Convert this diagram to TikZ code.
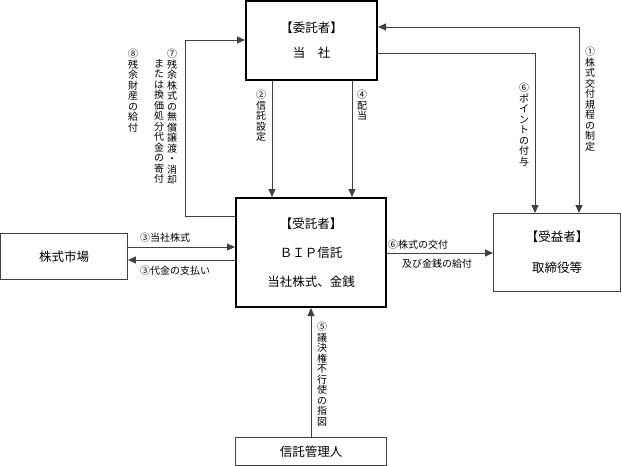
\documentclass[tikz,border=0pt]{standalone}
\usepackage{fontspec}
\setmainfont{Noto Sans CJK JP}
\usetikzlibrary{arrows.meta}

\newlength{\du}
\setlength{\du}{1pt}

\tikzset{
  heavybox/.style={draw=black, line width=2.4\du, fill=white, inner sep=0pt, align=center},
  lightbox/.style={draw=black!75, line width=0.9\du, fill=white, inner sep=0pt, align=center},
  link/.style={draw=black!75, line width=0.9\du, -{Triangle[length=8pt,width=7pt]}},
  twolink/.style={draw=black!75, line width=0.9\du, {Triangle[length=8pt,width=7pt]}-{Triangle[length=8pt,width=7pt]}},
  boxtext/.style={font=\fontsize{12.5}{#1}\selectfont},
  tag/.style={font=\fontsize{10}{10.5}\selectfont, inner sep=0pt},
  tate/.style={tag, align=center, anchor=north},
}

\begin{document}
\begin{tikzpicture}
\pgftransformxscale{1.000000}
\pgftransformyscale{-1.000000}
\useasboundingbox (0\du,0\du) rectangle (622\du,466\du);

% boxes
\node[heavybox, boxtext=25, minimum width=130.6\du, minimum height=78.6\du] (entrust) at (311.5\du,40.5\du) {【委託者】\\当　社};
\node[heavybox, boxtext=29, minimum width=149.6\du, minimum height=108.6\du] (trust) at (311\du,252.5\du) {【受託者】\\ＢＩＰ信託\\当社株式、金銭};
\node[lightbox, boxtext=31, minimum width=127\du, minimum height=78\du] (benef) at (557\du,252.5\du) {【受益者】\\取締役等};
\node[lightbox, boxtext=15, minimum width=127\du, minimum height=46\du] (market) at (64\du,256.5\du) {株式市場};
\node[lightbox, boxtext=15, minimum width=151\du, minimum height=28\du] (admin) at (311\du,451.5\du) {信託管理人};

% bends
\coordinate (c2) at (272\du,0\du);
\coordinate (c4) at (352\du,0\du);
\coordinate (c7a) at (185\du,216\du);
\coordinate (c7b) at (185\du,40\du);
\coordinate (c1) at (579\du,27\du);
\coordinate (c6) at (535\du,53\du);
\coordinate (c3a) at (0\du,247\du);
\coordinate (c3b) at (0\du,260\du);
\coordinate (c6b) at (0\du,253\du);

% connectors
\draw[link] (entrust.south -| c2) -- (trust.north -| c2);
\draw[link] (entrust.south -| c4) -- (trust.north -| c4);
\draw[link] (trust.west |- c7a) -- (c7a) -- (c7b) -- (entrust.west |- c7b);
\draw[twolink] (entrust.east |- c1) -- (c1) -- (benef.north -| c1);
\draw[link] (entrust.east |- c6) -- (c6) -- (benef.north -| c6);
\draw[link] (market.east |- c3a) -- (trust.west |- c3a);
\draw[link] (trust.west |- c3b) -- (market.east |- c3b);
\draw[link] (trust.east |- c6b) -- (benef.west |- c6b);
\draw[link] (admin.north) -- (trust.south);

% labels
\node[tag, anchor=west] (l3a) at (140\du,238\du) {③当社株式};
\node[tag, anchor=west] (l3b) at (140\du,271\du) {③代金の支払い};
\node[tag, anchor=west] (l6a) at (388\du,245\du) {⑥株式の交付};
\node[tag, anchor=west] (l6b) at (402\du,264\du) {及び金銭の給付};
\node[tate] (l8) at (133\du,49\du) {⑧\\残\\余\\財\\産\\の\\給\\付};
\node[tate] (l7a) at (172\du,49\du) {⑦\\残\\余\\株\\式\\の\\無\\償\\譲\\渡\\・\\消\\却};
\node[tate] (l7b) at (159\du,59\du) {ま\\た\\は\\換\\価\\処\\分\\代\\金\\の\\寄\\付};
\node[tate] (l2) at (261\du,90\du) {②\\信\\託\\設\\定};
\node[tate] (l4) at (362\du,90\du) {④\\配\\当};
\node[tate] (l6) at (524\du,83\du) {⑥\\ポ\\イ\\ン\\ト\\の\\付\\与};
\node[tate] (l1) at (590\du,47\du) {①\\株\\式\\交\\付\\規\\程\\の\\制\\定};
\node[tate] (l5) at (322\du,322\du) {⑤\\議\\決\\権\\不\\行\\使\\の\\指\\図};
\end{tikzpicture}
\end{document}
